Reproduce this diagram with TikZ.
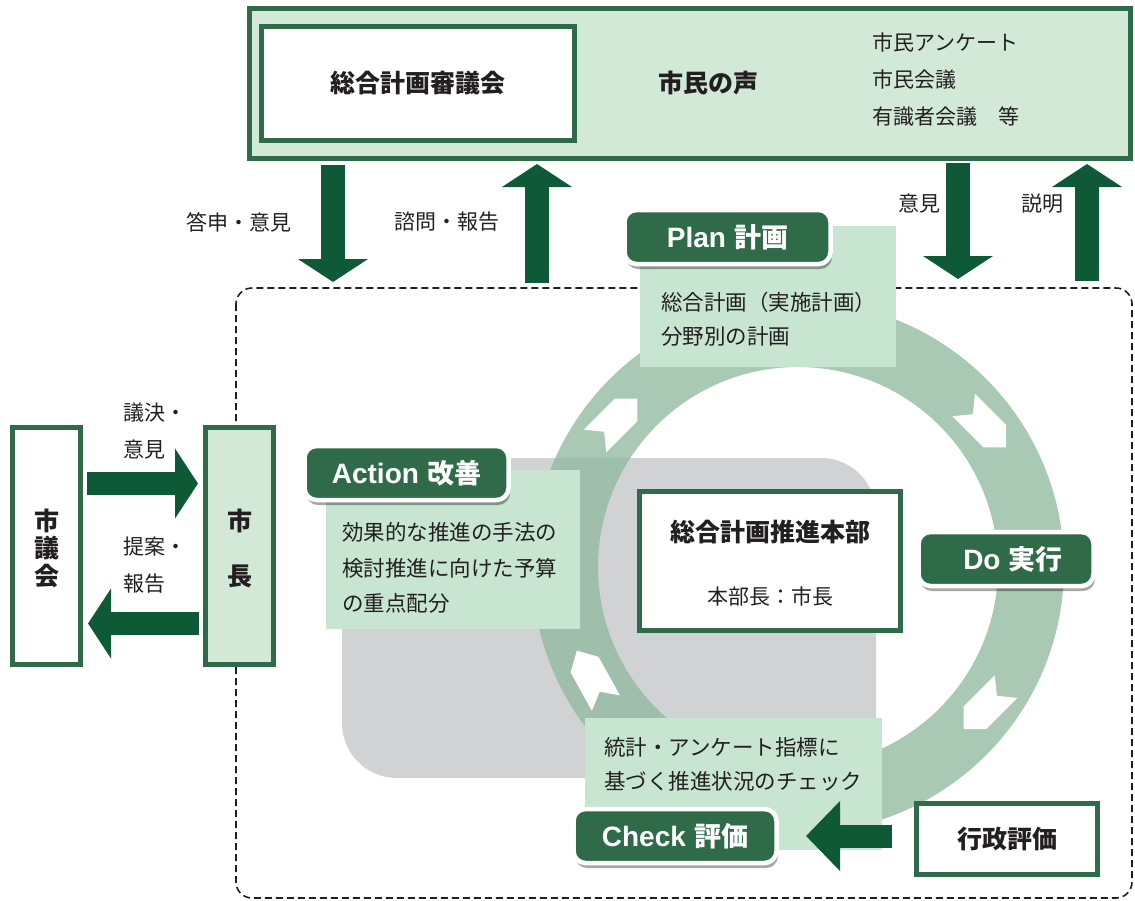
\documentclass[tikz,border=0pt]{standalone}
\usepackage{fontspec}
\setmainfont{Noto Sans CJK JP}
\newfontfamily\latinlab{Liberation Sans}
\usetikzlibrary{arrows.meta,shadows}
\definecolor{bord}{HTML}{2F6B48}
\definecolor{arrg}{HTML}{0E5A36}
\definecolor{topf}{HTML}{D2E9D8}
\definecolor{txtf}{HTML}{C7E5D1}
\definecolor{ringc}{HTML}{93BBA2}
\definecolor{grayf}{HTML}{D1D2D4}
\definecolor{ink}{HTML}{231F20}
\newcommand{\lat}[1]{{\latinlab\bfseries\fontsize{28}{30}\selectfont #1}}
\tikzset{
  gbox/.style={draw=bord, line width=5pt, inner sep=0pt, outer sep=0pt, text=ink},
  tfill/.style={fill=txtf, draw=none},
  bigarrow/.style={draw=arrg, line width=24pt, -{Triangle[length=23pt,width=69pt]}},
  lab/.style={fill=bord, draw=white, line width=4.5pt, rounded corners=12pt, text=white,
    inner sep=0pt, minimum height=54pt, font=\bfseries\fontsize{27}{30}\selectfont,
    drop shadow={shadow xshift=1.5pt, shadow yshift=-5pt, opacity=0.35, fill=black}},
  body/.style={text=ink, font=\fontsize{21.5}{34}\selectfont, align=left, inner sep=0pt},
  small/.style={text=ink, font=\fontsize{21}{37}\selectfont, align=left, inner sep=0pt},
  big/.style={text=ink, font=\bfseries\fontsize{25}{30}\selectfont, inner sep=0pt},
  chev/.style={fill=white, draw=none}
}
\begin{document}
\begin{tikzpicture}[x=1pt,y=-1pt]
\useasboundingbox (0,0) rectangle (1135,900);

% dashed area
\draw[ink, line width=1.6pt, dash pattern=on 7pt off 4pt, rounded corners=16pt] (236,288) rectangle (1132,898);

% top box
\node[gbox, fill=topf, minimum width=881pt, minimum height=150pt] (top) at (690,83.5) {};
\node[gbox, fill=white, minimum width=313pt, minimum height=114pt, font=\bfseries\fontsize{25}{30}\selectfont] (shingi) at (418,83.5) {総合計画審議会};
\node[big] (koe) at (708,83) {市民の声};
\node[small, anchor=west] (list) at (872,80) {市民アンケート\\市民会議\\有識者会議　等};

% arrows top
\coordinate (a1s) at (333,165); \coordinate (a1e) at (333,282);
\coordinate (a2s) at (537,283); \coordinate (a2e) at (537,164);
\coordinate (a3s) at (958,163); \coordinate (a3e) at (958,279);
\coordinate (a4s) at (1087,281); \coordinate (a4e) at (1087,164);
\draw[bigarrow] (a1s) -- (a1e);
\draw[bigarrow] (a2s) -- (a2e);
\draw[bigarrow] (a3s) -- (a3e);
\draw[bigarrow] (a4s) -- (a4e);
\node[small] (l1) at (239,222) {答申・意見};
\node[small] (l2) at (447,222) {諮問・報告};
\node[small] (l3) at (919,204) {意見};
\node[small] (l4) at (1042,204) {説明};

% council and mayor
\node[gbox, fill=white, minimum width=68pt, minimum height=237pt] (gikai) at (46.5,546) {};
\node[big, font=\bfseries\fontsize{25}{27.5}\selectfont, align=center] (gikait) at (46.5,548) {市\\議\\会};
\node[gbox, fill=topf, minimum width=68pt, minimum height=237pt] (mayor) at (239.5,546) {};
\node[big, font=\bfseries\fontsize{25}{55}\selectfont, align=center] (mayort) at (239.5,548) {市\\長};
\coordinate (b1s) at (87,483.5); \coordinate (b1e) at (198,483.5);
\coordinate (b2s) at (199,623.5); \coordinate (b2e) at (88,623.5);
\draw[bigarrow, line width=23pt] (b1s) -- (b1e);
\draw[bigarrow, line width=23pt] (b2s) -- (b2e);
\node[small, anchor=west] (l5) at (123,431.5) {議決・\\意見};
\node[small, anchor=west] (l6) at (123,565.5) {提案・\\報告};

% gray area
\fill[grayf, rounded corners=55pt] (342,458) rectangle (876,778);

% ring
\begin{scope}[shift={(798,567)}, y=1pt]
  \fill[ringc, opacity=0.8, even odd rule] (0,0) circle (266pt) (0,0) circle (200pt);
  \foreach \t/\r in {141/45, 37/-45, -37/-135, 208/119}{
    \begin{scope}[shift={(\t:234pt)}, rotate=\r]
      \fill[chev] (30,0) -- (14,16) -- (-30,16) -- (-17,0) -- (-30,-16) -- (14,-16) -- cycle;
    \end{scope}
  }
\end{scope}

% text boxes
\fill[tfill] (640,226) rectangle (896,367);
\node[body, anchor=west] (plant) at (661,319) {総合計画（実施計画）\\分野別の計画};
\fill[tfill] (326,470) rectangle (580,629);
\node[body, font=\fontsize{21.5}{35.5}\selectfont, anchor=west] (actt) at (342,568) {効果的な推進の手法の\\検討推進に向けた予算\\の重点配分};
\fill[tfill] (585,718) rectangle (882,850);
\node[body, anchor=west] (checkt) at (604,764) {統計・アンケート指標に\\基づく推進状況のチェック};

% center box
\node[gbox, fill=white, minimum width=261pt, minimum height=139pt] (hq) at (770,561) {};
\node[big] (hqt) at (770,532) {総合計画推進本部};
\node[small] (hqs) at (770,596) {本部長：市長};

% administrative evaluation
\node[gbox, fill=white, minimum width=181pt, minimum height=71pt, font=\bfseries\fontsize{25}{30}\selectfont] (gyosei) at (1007,839) {行政評価};
\coordinate (c1s) at (892,836); \coordinate (c1e) at (806,836);
\draw[bigarrow, line width=23pt, -{Triangle[length=34pt,width=68pt]}] (c1s) -- (c1e);

% PDCA labels
\node[lab, minimum width=206pt] (plan) at (727.5,237) {\lat{Plan}\hspace{2pt} 計画};
\node[lab, minimum width=204pt] (act) at (406.5,473) {\lat{Action}\hspace{2pt} 改善};
\node[lab, minimum width=175pt] (do) at (1006,559) {\hspace*{14pt}\lat{Do}\hspace{2pt} 実行};
\node[lab, minimum width=203pt] (check) at (675,836) {\lat{Check}\hspace{2pt} 評価};
\end{tikzpicture}
\end{document}
